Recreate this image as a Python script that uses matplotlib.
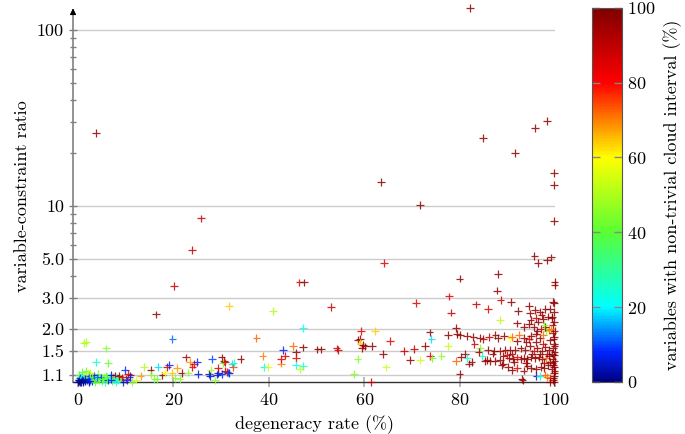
import matplotlib
matplotlib.use("Agg")
import matplotlib.pyplot as plt
from matplotlib.colors import LinearSegmentedColormap

plt.rcParams['font.family'] = ['cmr10', 'DejaVu Serif']
plt.rcParams['axes.formatter.use_mathtext'] = True
plt.rcParams['mathtext.fontset'] = 'cm'

# ---- data: (degeneracy rate %, variable-constraint ratio, non-trivial cloud %) ----
# outliers / upper points
out_x = [82.2, 3.8, 84.9, 95.8, 98.3, 91.6, 99.8, 99.8, 63.5, 71.7, 99.8, 25.8, 23.9,
         20.1, 16.3, 64.2, 46.4, 47.4, 53.0, 70.9, 80.0, 88.1, 87.8, 88.6, 90.8, 77.8,
         83.4, 78.2, 86.0, 92.3, 95.7, 96.5, 98.3, 99.2, 99.9, 99.9, 99.8, 99.6,
         19.8, 31.7, 40.9, 37.4, 47.2, 88.5]
out_y = [133, 26, 24.3, 27.7, 30.4, 20, 15.4, 13.2, 13.7, 10.1, 8.2, 8.5, 5.6,
         3.5, 2.42, 4.75, 3.68, 3.68, 2.66, 2.82, 3.87, 4.1, 3.3, 2.92, 2.85, 3.06,
         2.76, 2.48, 2.59, 2.52, 5.2, 4.75, 4.9, 5.1, 3.71, 3.55, 2.8, 2.85,
         1.76, 2.7, 2.52, 1.78, 2.02, 2.24]
out_c = [97, 96, 97, 97, 97, 97, 97, 97, 97, 97, 97, 90, 88,
         88, 97, 85, 85, 97, 88, 85, 97, 97, 97, 88, 97, 85,
         88, 88, 85, 97, 97, 97, 97, 97, 97, 97, 97, 97,
         12, 64, 50, 72, 22, 52]

# low degeneracy (0-35 %)
low_x = [1.3, 1.7, 5.9, 3.8, 6.3, 0.8, 1.7, 2.1, 0.2, 0.8, 4.2, 5.4, 6.6, 7.3, 7.7, 8.0,
         9.8, 10.5, 11.0, 10.1, 10.8, 11.4, 12.1, 13.1, 13.8, 15.2, 15.4, 16.0, 16.5,
         16.8, 17.7, 18.2, 18.7, 19.1, 19.8, 20.3, 20.7, 21.3, 21.7, 22.6, 23.1, 23.5,
         24.0, 24.3, 24.9, 25.2, 27.5, 28.1, 27.8, 28.7, 29.4, 30.1, 30.6, 30.3, 30.8,
         31.2, 31.7, 32.2, 32.5, 34.1, 29.4, 30.8, 27.7, 29.1, 30.1, 31.5, 32.6,
         0.0, 0.3, 0.5, 0.7, 1.0, 1.2, 1.5, 0.2, 0.4, 1.8, 2.0, 2.2, 2.5, 2.8, 3.0,
         3.3, 3.6, 4.0, 4.3, 4.6, 5.0, 5.3, 5.6, 6.0, 6.3, 6.8, 7.2, 7.6, 8.4, 9.0,
         9.5, 1.2, 2.4, 3.4, 4.8, 5.8, 6.9, 8.6, 9.2, 2.6, 3.0, 1.0, 0.6, 7.9, 10.3,
         0.1, 0.6, 1.1, 1.4, 0.9, 2.3, 3.9, 5.1, 6.1, 7.0]
low_y = [1.66, 1.68, 1.55, 1.30, 1.28, 1.14, 1.15, 1.12, 1.10, 1.08, 1.11, 1.07, 1.07,
         1.07, 1.09, 1.05, 1.17, 1.11, 1.09, 1.04, 1.07, 1.0, 1.03, 1.08, 1.22, 1.17,
         1.10, 1.04, 1.04, 1.22, 1.09, 1.12, 1.22, 1.25, 1.12, 1.05, 1.20, 1.04, 1.12,
         1.38, 1.13, 1.30, 1.22, 1.26, 1.30, 1.11, 1.11, 1.35, 1.17, 1.02, 1.12, 1.38,
         1.32, 1.28, 1.29, 1.14, 1.12, 1.27, 1.21, 1.35, 1.20, 1.16, 1.08, 1.10, 1.11,
         1.13, 1.28,
         1.0, 1.01, 1.0, 1.02, 1.0, 1.03, 1.01, 1.03, 1.05, 1.02, 1.04, 1.0, 1.02, 1.05,
         1.01, 1.03, 1.0, 1.04, 1.02, 1.05, 1.01, 1.03, 1.0, 1.04, 1.02, 1.05, 1.01,
         1.03, 1.02, 1.04, 1.0, 1.07, 1.08, 1.09, 1.06, 1.09, 1.1, 1.08, 1.06, 1.12,
         1.06, 1.05, 1.07, 1.0, 1.02,
         1.02, 1.0, 1.01, 1.04, 1.03, 1.01, 1.06, 1.04, 1.07, 1.03]
low_c = [50, 50, 45, 25, 42, 42, 42, 55, 40, 42, 42, 50, 52, 70, 97, 25,
         8, 85, 97, 85, 8, 45, 55, 68, 50, 97, 45, 45, 42,
         18, 97, 58, 88, 8, 65, 45, 68, 45, 97, 92, 45, 68,
         85, 82, 8, 5, 5, 10, 50, 45, 5, 97, 97, 42, 85,
         85, 5, 18, 75, 97, 85, 88, 5, 5, 8, 10, 25,
         0, 2, 0, 5, 3, 2, 0, 8, 5, 5, 10, 3, 8, 15, 5,
         42, 38, 40, 45, 30, 40, 45, 25, 40, 5, 20, 42, 25, 30, 40,
         5, 45, 10, 5, 8, 40, 5, 97, 85, 52, 40, 25, 20, 22, 8,
         0, 1, 0, 3, 2, 6, 12, 40, 35, 8]

# middle (35-78 %)
mid_x = [38.7, 39.0, 39.9, 42.5, 42.5, 43.4, 43.0, 45.1, 45.7, 45.7, 45.7, 47.2, 46.5,
         47.2, 50.2, 50.9, 54.2, 54.5, 58.6, 59.1, 59.2, 59.8, 60.2, 59.5, 59.3, 62.3,
         61.6, 65.4, 64.0, 68.4, 69.6, 70.5, 72.7, 71.7, 73.7, 74.1, 73.8, 74.3, 76.2,
         77.6, 77.6, 58.6, 64.6, 57.9, 61.4]
mid_y = [1.40, 1.22, 1.22, 1.27, 1.35, 1.41, 1.52, 1.60, 1.47, 1.37, 1.25, 1.23, 1.18,
         1.57, 1.53, 1.53, 1.55, 1.52, 1.73, 1.75, 1.67, 1.62, 1.59, 1.56, 1.94, 1.94,
         1.60, 1.71, 1.44, 1.50, 1.33, 1.54, 1.60, 1.33, 1.91, 1.75, 1.40, 1.37, 1.40,
         1.60, 1.85, 1.35, 1.21, 1.11, 1.0]
mid_c = [70, 25, 55, 70, 85, 85, 8, 72, 97, 85, 22, 25, 52,
         97, 97, 97, 88, 88, 97, 97, 62, 97, 97, 97, 85, 64,
         97, 85, 97, 88, 97, 90, 97, 54, 97, 18, 85, 42, 45,
         52, 97, 45, 54, 45, 88]

# high degeneracy (78-100 %)
hi_x = [79.2, 79.4, 80.1, 81.5, 82.9, 84.3, 85.0, 86.2, 87.5, 88.0, 89.3, 90.5, 91.0,
        92.5, 93.5, 94.5, 95.0, 96.0, 96.8, 97.5, 98.2, 98.8, 99.5, 99.8,
        94.6, 95.8, 96.9, 97.2, 94.8, 94.9, 94.6, 96.0, 96.5, 97.5, 98.5, 99.3, 99.8,
        99.8, 99.5, 98.0, 97.0, 95.5, 93.5, 92.0, 99.0, 98.0, 97.8, 99.2, 96.3,
        83.1, 84.3, 86.0, 87.3, 88.5, 89.6, 90.5, 91.7, 92.8, 93.8, 94.7, 95.5, 96.3,
        97.2, 98.0, 98.8, 99.6, 99.8, 97.5, 96.0, 94.0, 92.0, 99.0,
        79.2, 80.3, 81.1, 81.5, 82.0, 84.8, 85.3, 85.7, 86.4, 87.4, 88.5, 89.2, 89.2,
        90.3, 91.2, 92.0, 92.8, 93.5, 94.2, 95.0, 95.8, 96.6, 97.3, 98.1, 98.8, 99.5,
        99.8, 90.0,
        88.8, 90.2, 91.0, 92.0, 93.4, 94.2, 95.0, 96.0, 97.0, 97.8, 98.6, 99.3, 99.8,
        99.8, 99.5,
        96.1, 96.9, 97.9, 98.3, 99.0, 99.6, 99.0, 93.0, 93.2, 80.0, 99.8, 99.8,
        99.9, 99.9, 99.9, 99.9, 99.9, 99.7, 99.7, 99.7, 99.4, 99.4, 98.9, 98.4, 97.7,
        96.9, 95.2, 93.9, 91.4, 90.9, 86.9, 84.0, 82.5]
hi_y = [2.02, 1.87, 1.85, 1.82, 1.80, 1.78, 1.75, 1.80, 1.85, 1.78, 1.82, 1.78, 1.80,
        1.85, 1.78, 1.75, 1.82, 1.88, 1.78, 1.85, 1.95, 1.98, 1.90, 1.80,
        2.70, 2.56, 2.51, 2.40, 2.45, 2.25, 2.14, 2.30, 2.20, 2.28, 2.35, 2.30, 2.50,
        2.20, 2.10, 2.05, 2.00, 2.05, 2.05, 2.15, 2.60, 2.60, 2.10, 2.00, 1.95,
        1.64, 1.56, 1.52, 1.50, 1.50, 1.52, 1.52, 1.52, 1.55, 1.52, 1.60, 1.50, 1.55,
        1.50, 1.58, 1.52, 1.55, 1.65, 1.65, 1.68, 1.68, 1.70, 1.72,
        1.32, 1.39, 1.44, 1.37, 1.27, 1.40, 1.32, 1.33, 1.31, 1.31, 1.33, 1.40, 1.27,
        1.37, 1.35, 1.38, 1.35, 1.37, 1.35, 1.38, 1.36, 1.38, 1.35, 1.37, 1.40, 1.35,
        1.42, 1.42,
        1.25, 1.22, 1.17, 1.20, 1.16, 1.23, 1.20, 1.18, 1.22, 1.20, 1.25, 1.18, 1.22,
        1.12, 1.28,
        1.08, 1.08, 1.10, 1.07, 1.05, 1.02, 1.00, 1.035, 1.02, 1.11, 1.08, 1.00,
        1.15, 1.32, 1.47, 1.60, 1.95, 1.05, 1.25, 1.75, 1.45, 2.35, 1.30, 1.45, 1.28,
        1.45, 1.45, 1.28, 1.30, 1.45, 1.45, 1.48, 1.30]
hi_c = [97, 97, 97, 97, 97, 97, 92, 90, 97, 97, 97, 60, 72,
        72, 97, 85, 97, 97, 97, 72, 45, 70, 97, 97,
        97, 97, 97, 97, 97, 97, 97, 88, 97, 97, 97, 97, 97,
        97, 97, 97, 90, 97, 97, 97, 97, 97, 45, 70, 97,
        88, 45, 97, 97, 97, 97, 97, 97, 97, 97, 97, 85, 97,
        97, 97, 97, 97, 97, 88, 97, 97, 97, 97,
        72, 97, 97, 25, 97, 25, 97, 97, 97, 97, 97, 97, 97,
        97, 97, 85, 97, 97, 97, 97, 97, 97, 97, 72, 97, 97,
        97, 88,
        97, 97, 97, 85, 97, 97, 97, 97, 97, 97, 97, 97, 97,
        97, 97,
        5, 22, 72, 70, 75, 97, 97, 97, 97, 97, 97, 97,
        97, 97, 97, 97, 97, 97, 97, 97, 97, 97, 97, 97, 97,
        97, 97, 97, 97, 97, 97, 97, 97]

x = out_x + low_x + mid_x + hi_x
y = out_y + low_y + mid_y + hi_y
c = out_c + low_c + mid_c + hi_c

yticks = [1.1, 1.5, 2.0, 3.0, 5.0, 10, 100]
ytick_labels = ['1.1', '1.5', '2.0', '3.0', '5.0', '10', '100']
xticks = [0, 20, 40, 60, 80, 100]

# colour map as in the reference colour bar (cyan at 20, yellow at 60, red at 80)
cmap = LinearSegmentedColormap.from_list('refjet', [
    (0.0, (0.0, 0.0, 0.5)), (0.08, (0.0, 0.15, 1.0)), (0.2, (0.0, 1.0, 1.0)),
    (0.4, (0.35, 1.0, 0.2)), (0.6, (1.0, 1.0, 0.0)), (0.8, (1.0, 0.0, 0.0)),
    (1.0, (0.5, 0.0, 0.0))])

# ---- figure ----
fig = plt.figure(figsize=(6.85, 4.34), dpi=100)
ax = fig.add_axes([0.1066, 0.12, 0.7036, 0.857])

ax.set_yscale('log')
ax.set_xlim(-1.05, 100)
ax.set_ylim(1.0, 130)

for yv in yticks:
    ax.axhline(yv, color='#cccccc', lw=1.0, zorder=0)

sc = ax.scatter(x, y, c=c, cmap=cmap, vmin=0, vmax=100, marker='+',
                s=30, linewidths=0.9, alpha=0.85, clip_on=False, zorder=3)

ax.spines['top'].set_visible(False)
ax.spines['right'].set_visible(False)
ax.spines['left'].set_color('#808080')
ax.spines['left'].set_linewidth(1.2)
ax.spines['bottom'].set_color('#333333')
ax.spines['bottom'].set_linewidth(1.0)

ax.set_yticks(yticks)
ax.set_yticklabels(ytick_labels)
ax.set_yticks([4, 6, 7, 8, 9, 20, 30, 40, 50, 60, 70, 80, 90], minor=True)
ax.yaxis.set_minor_formatter(matplotlib.ticker.NullFormatter())
ax.tick_params(axis='y', which='major', direction='inout', length=6, width=1,
               color='#808080', labelsize=13)
ax.tick_params(axis='y', which='minor', direction='inout', length=5, width=1,
               color='#808080')
ax.set_xticks(xticks)
ax.tick_params(axis='x', direction='inout', length=7, width=1.2, color='#aaaaaa',
               labelsize=13, pad=4)

# arrow at top of y axis
ax.annotate('', xy=(0, 1.012), xytext=(0, 0.99), xycoords='axes fraction',
            arrowprops=dict(arrowstyle='-|>', color='black', lw=0.8,
                            mutation_scale=9))

ax.set_xlabel('degeneracy rate (%)', fontsize=13, labelpad=5)
ax.set_ylabel('variable-constraint ratio', fontsize=13, labelpad=5)

cax = fig.add_axes([0.864, 0.12, 0.0438, 0.862])
cb = fig.colorbar(sc, cax=cax)
cb.solids.set_alpha(1)
cb.set_ticks([0, 20, 40, 60, 80, 100])
cb.ax.minorticks_off()
cb.ax.tick_params(direction='in', left=True, right=True, length=6, width=1,
                  color='#888888', labelsize=13)
cb.outline.set_edgecolor('#555555')
cb.set_label('variables with non-trivial cloud interval (%)', fontsize=13,
             labelpad=6)

fig.savefig('out.png', dpi=100)
